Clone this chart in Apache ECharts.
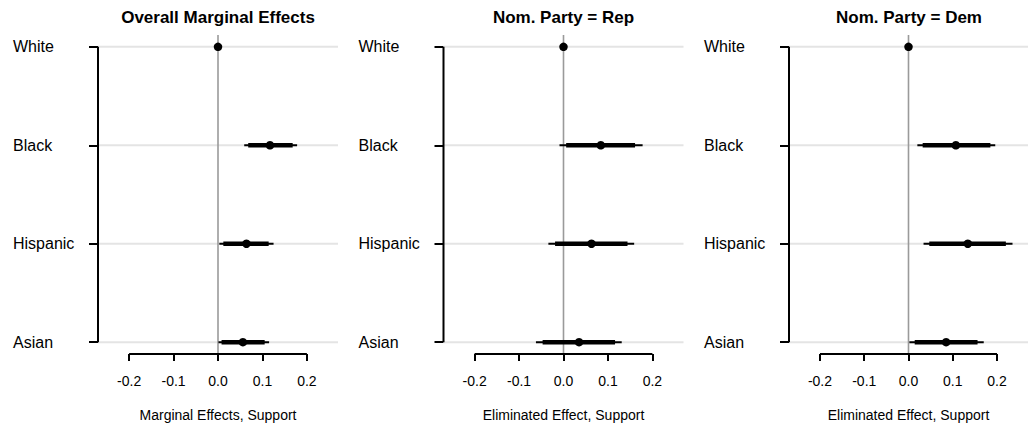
<!DOCTYPE html>
<html>
<head>
<meta charset="utf-8">
<script src="https://cdn.jsdelivr.net/npm/echarts@6/dist/echarts.min.js"></script>
<style>
html,body{margin:0;padding:0;background:#fff;}
#chart{width:1028px;height:427px;}
</style>
</head>
<body>
<div id="chart"></div>
<script>
// ---- data ----
const categories = ['White', 'Black', 'Hispanic', 'Asian'];
const panelTitles = ['Overall Marginal Effects', 'Nom. Party = Rep', 'Nom. Party = Dem'];
const axisTitles = ['Marginal Effects, Support', 'Eliminated Effect, Support', 'Eliminated Effect, Support'];
const xTicks = [-0.2, -0.1, 0.0, 0.1, 0.2];

// Overall marginal effects
const overallEst  = [0, 0.117, 0.064, 0.056];
const overallLo90 = [null, 0.068, 0.012, 0.008];
const overallHi90 = [null, 0.168, 0.114, 0.105];
const overallLo95 = [null, 0.059, 0.003, 0.001];
const overallHi95 = [null, 0.178, 0.125, 0.115];

// Nom. Party = Rep
const repEst  = [0, 0.084, 0.063, 0.035];
const repLo90 = [null, 0.006, -0.019, -0.047];
const repHi90 = [null, 0.161, 0.144, 0.116];
const repLo95 = [null, -0.009, -0.034, -0.062];
const repHi95 = [null, 0.178, 0.159, 0.131];

// Nom. Party = Dem
const demEst  = [0, 0.107, 0.134, 0.085];
const demLo90 = [null, 0.032, 0.047, 0.014];
const demHi90 = [null, 0.185, 0.220, 0.156];
const demLo95 = [null, 0.020, 0.034, 0.002];
const demHi95 = [null, 0.196, 0.235, 0.170];

const panels = [
  {est: overallEst, lo90: overallLo90, hi90: overallHi90, lo95: overallLo95, hi95: overallHi95},
  {est: repEst, lo90: repLo90, hi90: repHi90, lo95: repLo95, hi95: repHi95},
  {est: demEst, lo90: demLo90, hi90: demHi90, lo95: demLo95, hi95: demHi95}
];

// ---- layout / style ----
const FONT = '"Liberation Sans", Arial, Helvetica, sans-serif';
const X_MIN = -0.27, X_MAX = 0.27;
const Y_MIN = 0.88, Y_MAX = 4.12;
const gridLefts = [98, 443.5, 789];
const GRID_W = 240, GRID_TOP = 35, GRID_H = 319;
const yVals = categories.map((c, i) => i + 1);

const grids = [], xAxes = [], yAxes = [], series = [], titles = [];

panels.forEach((p, k) => {
  grids.push({left: gridLefts[k], top: GRID_TOP, width: GRID_W, height: GRID_H, containLabel: false});
  titles.push({
    text: panelTitles[k],
    left: gridLefts[k] + GRID_W / 2,
    top: 9,
    padding: 0,
    textAlign: 'center',
    textStyle: {fontFamily: FONT, fontSize: 17, fontWeight: 'bold', color: '#000'}
  });
  xAxes.push({
    gridIndex: k, type: 'value', min: X_MIN, max: X_MAX,
    axisLine: {show: false, onZero: false},
    splitLine: {show: false},
    axisTick: {show: true, customValues: xTicks, length: 7, lineStyle: {color: '#000', width: 2}},
    axisLabel: {show: true, customValues: xTicks, formatter: v => v.toFixed(1), margin: 20,
      fontFamily: FONT, fontSize: 14, color: '#000'},
    name: axisTitles[k], nameLocation: 'middle', nameGap: 54,
    nameTextStyle: {fontFamily: FONT, fontSize: 14, color: '#000'}
  });
  yAxes.push({
    gridIndex: k, type: 'value', min: Y_MIN, max: Y_MAX, inverse: true,
    axisLine: {show: false, onZero: false},
    splitLine: {show: false},
    axisTick: {show: true, customValues: yVals, length: 9, lineStyle: {color: '#000', width: 2}},
    axisLabel: {show: true, customValues: yVals, formatter: v => categories[Math.round(v) - 1],
      align: 'left', margin: 85, fontFamily: FONT, fontSize: 16, color: '#000'}
  });

  // horizontal light grid lines at each category
  series.push({
    type: 'custom', xAxisIndex: k, yAxisIndex: k, silent: true, clip: false, z: 1,
    data: yVals.map(v => [X_MIN, X_MAX, v]),
    encode: {x: [0, 1], y: 2},
    renderItem: (params, api) => {
      const a = api.coord([api.value(0), api.value(2)]);
      const b = api.coord([api.value(1), api.value(2)]);
      return {type: 'line', shape: {x1: a[0], y1: a[1], x2: b[0], y2: b[1]},
        style: {stroke: '#e4e4e4', lineWidth: 2}};
    }
  });
  // vertical zero reference line
  series.push({
    type: 'custom', xAxisIndex: k, yAxisIndex: k, silent: true, clip: false, z: 2,
    data: [[0, Y_MIN, Y_MAX]],
    encode: {x: 0, y: [1, 2]},
    renderItem: (params, api) => {
      const a = api.coord([api.value(0), api.value(1)]);
      const b = api.coord([api.value(0), api.value(2)]);
      return {type: 'line', shape: {x1: a[0], y1: a[1], x2: b[0], y2: b[1]},
        style: {stroke: '#9a9a9a', lineWidth: 1.6}};
    }
  });
  // y-axis bracket line (first to last category) and x-axis line (first to last tick)
  series.push({
    type: 'custom', xAxisIndex: k, yAxisIndex: k, silent: true, clip: false, z: 3,
    data: [[X_MIN, X_MIN, yVals[0], yVals[yVals.length - 1]],
           [xTicks[0], xTicks[xTicks.length - 1], Y_MAX, Y_MAX]],
    encode: {x: [0, 1], y: [2, 3]},
    renderItem: (params, api) => {
      const a = api.coord([api.value(0), api.value(2)]);
      const b = api.coord([api.value(1), api.value(3)]);
      return {type: 'line', shape: {x1: a[0], y1: a[1], x2: b[0], y2: b[1]},
        style: {stroke: '#000', lineWidth: 2}};
    }
  });
  // confidence intervals
  const ciData = [];
  categories.forEach((c, i) => {
    if (p.lo95[i] !== null) ciData.push([p.lo95[i], p.hi95[i], p.lo90[i], p.hi90[i], i + 1]);
  });
  series.push({
    type: 'custom', xAxisIndex: k, yAxisIndex: k, silent: true, clip: false, z: 4,
    data: ciData,
    encode: {x: [0, 1, 2, 3], y: 4},
    renderItem: (params, api) => {
      const y = api.value(4);
      const a95 = api.coord([api.value(0), y]), b95 = api.coord([api.value(1), y]);
      const a90 = api.coord([api.value(2), y]), b90 = api.coord([api.value(3), y]);
      return {type: 'group', children: [
        {type: 'line', shape: {x1: a95[0], y1: a95[1], x2: b95[0], y2: b95[1]},
          style: {stroke: '#000', lineWidth: 2}},
        {type: 'line', shape: {x1: a90[0], y1: a90[1], x2: b90[0], y2: b90[1]},
          style: {stroke: '#000', lineWidth: 4.5}}
      ]};
    }
  });
  // point estimates
  series.push({
    type: 'scatter', xAxisIndex: k, yAxisIndex: k, silent: true, z: 5,
    symbol: 'circle', symbolSize: 8.5,
    itemStyle: {color: '#000', opacity: 1},
    data: p.est.map((v, i) => [v, i + 1])
  });
});

const chart = echarts.init(document.getElementById('chart'), null, {renderer: 'svg'});
chart.setOption({
  animation: false,
  backgroundColor: '#fff',
  title: titles,
  grid: grids,
  xAxis: xAxes,
  yAxis: yAxes,
  series: series
});
</script>
</body>
</html>
